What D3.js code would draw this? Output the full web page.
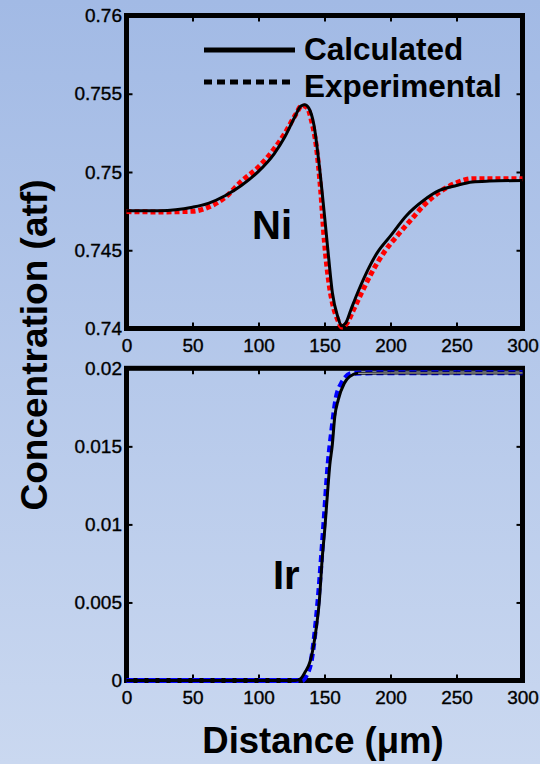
<!DOCTYPE html>
<html>
<head>
<meta charset="utf-8">
<script src="https://cdn.jsdelivr.net/npm/d3@7"></script>
<style>
html,body{margin:0;padding:0;}
body{width:540px;height:764px;overflow:hidden;}
svg{display:block;}
</style>
</head>
<body>
<svg id="chart" width="540" height="764"></svg>
<script>
// ---------- data ----------
const xTicks = [0, 50, 100, 150, 200, 250, 300];
const xTickLabels = ["0", "50", "100", "150", "200", "250", "300"];
const niTicks = [0.74, 0.745, 0.75, 0.755, 0.76];
const niTickLabels = ["0.74", "0.745", "0.75", "0.755", "0.76"];
const irTicks = [0, 0.005, 0.01, 0.015, 0.02];
const irTickLabels = ["0", "0.005", "0.01", "0.015", "0.02"];
const seriesNames = ["Calculated", "Experimental"];

const niCalcX = [0, 25, 50, 62, 75, 87, 100, 112, 120, 127, 132, 135, 138, 142, 146, 150, 153, 156, 160, 163, 166, 170, 175, 180, 190, 200, 212, 225, 237, 250, 262, 275, 300];
const niCalcY = [0.74753, 0.74753, 0.74775, 0.7480, 0.7485, 0.74914, 0.75004, 0.75118, 0.75225, 0.75343, 0.7542, 0.7543, 0.7541, 0.7530, 0.75043, 0.74721, 0.74464, 0.74227, 0.74077, 0.74017, 0.74034, 0.7412, 0.74227, 0.74324, 0.74485, 0.74592, 0.74721, 0.74818, 0.74882, 0.74914, 0.74936, 0.74942, 0.74946];

const niExpX = [0, 25, 50, 62, 75, 87, 100, 112, 120, 128, 133, 137, 140, 144, 147, 150, 153, 156, 160, 163, 167, 172, 178, 185, 195, 205, 215, 225, 237, 250, 262, 275, 300];
const niExpY = [0.74747, 0.74745, 0.74749, 0.74775, 0.7484, 0.7494, 0.75032, 0.7515, 0.75247, 0.75365, 0.75425, 0.7541, 0.75333, 0.7515, 0.74893, 0.74549, 0.74313, 0.74163, 0.74056, 0.74009, 0.74034, 0.7412, 0.74227, 0.74345, 0.74485, 0.74592, 0.74689, 0.74785, 0.74871, 0.74931, 0.74957, 0.74957, 0.74957];

const irCalcX = [0, 50, 100, 128, 132, 135, 139.4, 143.9, 146, 148.2, 150.5, 152.3, 154, 155.8, 157.8, 160.4, 165, 169, 175.5, 200, 250, 300];
const irCalcY = [0, 0, 0, 0, 0.00012, 0.0005, 0.0013, 0.00345, 0.005, 0.00775, 0.01, 0.01204, 0.0138, 0.015, 0.01691, 0.01798, 0.01904, 0.01947, 0.01968, 0.0197, 0.0197, 0.0197];

const irExpX = [0, 50, 100, 133, 136, 140, 145, 149.5, 152.8, 155.6, 158.6, 163, 171, 200, 250, 300];
const irExpY = [0, 0, 0, 0, 0.0003, 0.0013, 0.005, 0.01, 0.0139, 0.01606, 0.01798, 0.01904, 0.01968, 0.01972, 0.01972, 0.01972];

// ---------- layout ----------
const svg = d3.select("#chart");
const defs = svg.append("defs");
const grad = defs.append("linearGradient").attr("id", "bg").attr("x1", 0).attr("y1", 0).attr("x2", 0).attr("y2", 1);
grad.append("stop").attr("offset", "0%").attr("stop-color", "#a2bae5");
grad.append("stop").attr("offset", "100%").attr("stop-color", "#cad8f0");
svg.append("rect").attr("width", 540).attr("height", 764).attr("fill", "url(#bg)");

const left = 126.5, right = 522.5;
const x = d3.scaleLinear().domain([0, 300]).range([left, right]);
const panels = [
  {top: 15.5, bottom: 328.5, domain: [0.74, 0.76], ticks: niTicks, labels: niTickLabels,
   calc: d3.zip(niCalcX, niCalcY), exp: d3.zip(niExpX, niExpY), expColor: "#ff0000", expWidth: 5, dash: "5,3", name: "Ni", lx: 252, ly: 239},
  {top: 368.3, bottom: 680.5, domain: [0, 0.02], ticks: irTicks, labels: irTickLabels,
   calc: d3.zip(irCalcX, irCalcY), exp: d3.zip(irExpX, irExpY), expColor: "#0000ff", expWidth: 5, dash: "7,4", name: "Ir", lx: 273, ly: 589}
];

const tickFont = "'Liberation Sans', Arial, sans-serif";

panels.forEach((p, i) => {
  const y = d3.scaleLinear().domain(p.domain).range([p.bottom, p.top]);
  const g = svg.append("g");

  // axes with inward ticks
  const axB = d3.axisBottom(x).tickValues(xTicks).tickFormat((d, k) => xTickLabels[k]).tickSizeInner(-6).tickSizeOuter(0).tickPadding(10);
  const axT = d3.axisTop(x).tickValues(xTicks).tickFormat("").tickSizeInner(-6).tickSizeOuter(0);
  const axL = d3.axisLeft(y).tickValues(p.ticks).tickFormat((d, k) => p.labels[k]).tickSizeInner(-6).tickSizeOuter(0).tickPadding(4.5);
  const axR = d3.axisRight(y).tickValues(p.ticks).tickFormat("").tickSizeInner(-6).tickSizeOuter(0);
  const gb = g.append("g").attr("transform", `translate(0,${p.bottom})`).call(axB);
  const gt = g.append("g").attr("transform", `translate(0,${p.top})`).call(axT);
  const gl = g.append("g").attr("transform", `translate(${left},0)`).call(axL);
  const gr = g.append("g").attr("transform", `translate(${right},0)`).call(axR);
  [gb, gt, gl, gr].forEach(a => {
    a.select(".domain").remove();
    a.selectAll(".tick line").attr("stroke", "#000").attr("stroke-width", 2);
    a.selectAll(".tick text").attr("fill", "#000").attr("stroke", "#000").attr("stroke-width", 0.35)
      .style("font-family", tickFont).style("font-size", "19px");
  });

  g.append("rect").attr("x", left).attr("y", p.top).attr("width", right - left).attr("height", p.bottom - p.top)
    .attr("fill", "none").attr("stroke", "#000").attr("stroke-width", 5);

  const line = d3.line().x(d => x(d[0])).y(d => y(d[1])).curve(d3.curveMonotoneX);
  const plot = g.append("g");
  plot.append("path").datum(p.exp).attr("d", line).attr("fill", "none")
    .attr("stroke", p.expColor).attr("stroke-width", p.expWidth).attr("stroke-dasharray", p.dash);
  plot.append("path").datum(p.calc).attr("d", line).attr("fill", "none")
    .attr("stroke", "#000").attr("stroke-width", 3).attr("stroke-linejoin", "round");
  if (i === 1) {
    plot.append("path").datum(p.calc.filter(d => d[0] >= 170)).attr("d", line).attr("fill", "none")
      .attr("stroke", "#fff").attr("stroke-width", 0.8);
  }

  g.append("text").attr("x", p.lx).attr("y", p.ly).text(p.name)
    .style("font-family", tickFont).style("font-weight", "bold").style("font-size", "40px").attr("fill", "#000");
});

// legend
const leg = svg.append("g");
const legStyles = [{dash: null, y: 50, ty: 60}, {dash: "8,5", y: 82, ty: 96.5}];
seriesNames.forEach((n, k) => {
  const s = legStyles[k];
  const ln = leg.append("line").attr("x1", 204).attr("x2", 295).attr("y1", s.y).attr("y2", s.y)
    .attr("stroke", "#000").attr("stroke-width", 5);
  if (s.dash) ln.attr("stroke-dasharray", s.dash);
  leg.append("text").attr("x", 304).attr("y", s.ty).text(n)
    .style("font-family", tickFont).style("font-weight", "bold").style("font-size", "31.5px").attr("fill", "#000");
});

// axis titles
svg.append("text").attr("transform", "translate(47,345) rotate(-90)").attr("text-anchor", "middle")
  .text("Concentration (atf)")
  .style("font-family", tickFont).style("font-weight", "bold").style("font-size", "37px").attr("fill", "#000");
svg.append("text").attr("x", 323).attr("y", 753).attr("text-anchor", "middle")
  .text("Distance (\u03bcm)")
  .style("font-family", tickFont).style("font-weight", "bold").style("font-size", "36.5px").attr("fill", "#000");
</script>
</body>
</html>
